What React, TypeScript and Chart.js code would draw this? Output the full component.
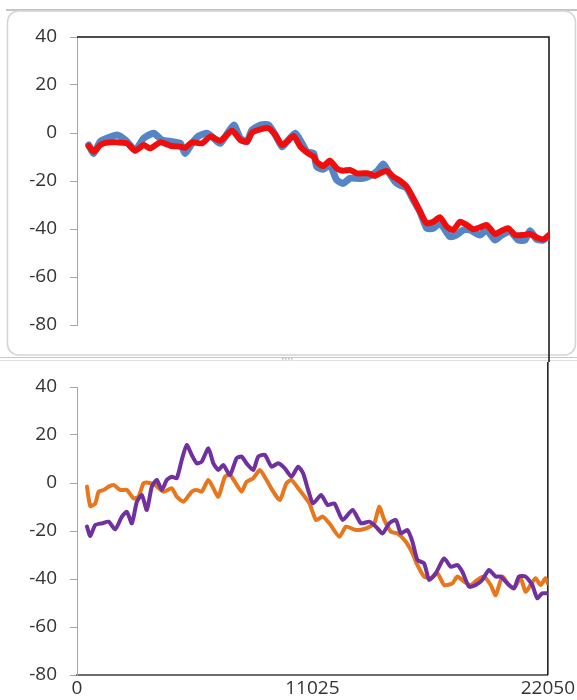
import React, { useEffect, useRef } from "react";
import { Chart, registerables } from "chart.js";

Chart.register(...registerables);

const xMin = 0;
const xMax = 22050;
const xTickValues = [0, 11025, 22050];
const yMin = -80;
const yMax = 40;
const yStep = 20;

// Top chart: blue series
const blueX = [547, 780, 1088, 1401, 1869, 2258, 2724, 3116, 3583, 3971, 4438, 4826, 5059, 5372, 5684, 6073, 6306, 6694, 7320, 7629, 7942, 8175, 8563, 8955, 9264, 9577, 9810, 10198, 10511, 10745, 11058, 11198, 11506, 11819, 12132, 12441, 12753, 13067, 13375, 13688, 14001, 14309, 14543, 14855, 15089, 15402, 15711, 16024, 16337, 16645, 16958, 17425, 17738, 18047, 18359, 18826, 19139, 19527, 19840, 20228, 20616, 20929, 21162, 21475, 21784, 22050];
const blueY = [-5, -8.5, -3.6, -2.2, -0.8, -2.9, -7.1, -2.2, -0.1, -2.9, -3.6, -4.3, -8.5, -4.3, -1.25, -0.1, -1.5, -4.3, 3.3, -2.2, -3.6, 1.25, 3.3, 3.3, -0.8, -5.7, -3.6, -0.1, -4.3, -7.8, -8.5, -14, -15.1, -13.3, -19.6, -21, -18.9, -18.9, -18.9, -17.9, -16.1, -12.9, -16.1, -20.3, -21.7, -22.9, -27.9, -32.8, -39.7, -39.7, -37.6, -43.2, -42.5, -40.4, -40.4, -42.5, -40.4, -44.6, -42.5, -41, -44.6, -44.6, -40.7, -44.3, -44.6, -43];

// Top chart: red series
const redX = [547, 780, 1088, 1401, 1869, 2336, 2724, 3116, 3424, 3891, 4359, 4826, 5059, 5372, 5840, 6227, 6694, 7241, 7629, 7942, 8175, 8563, 8955, 9264, 9577, 9810, 10123, 10432, 10745, 11058, 11198, 11506, 11819, 12132, 12441, 12753, 13067, 13375, 13609, 13921, 14155, 14468, 14776, 15089, 15402, 15711, 16024, 16337, 16645, 16958, 17271, 17579, 17892, 18205, 18514, 18826, 19139, 19527, 19840, 20148, 20461, 20849, 21162, 21475, 21784, 22050];
const redY = [-5.4, -7.8, -5, -4, -3.9, -4.3, -7.4, -5, -6.4, -3.9, -5.3, -5.7, -6.1, -3.9, -4.3, -1.5, -3.2, 1, -2.9, -3.6, 0.1, 1.5, 2, -0.8, -5, -3.6, -1.25, -5.7, -8.2, -9.9, -12, -13.75, -11.5, -14.7, -15.7, -15.4, -16.8, -16.8, -16.8, -17.9, -16.8, -15.8, -18.2, -19.9, -22.4, -27.2, -32.8, -37.6, -37, -35.1, -39, -40.4, -37, -38.3, -40.1, -39.3, -38.3, -42.1, -40.7, -39.7, -42.5, -42.5, -42.1, -43.5, -44.3, -42.5];

// Bottom chart: orange series
const orangeX = [467, 621, 855, 1014, 1247, 1481, 1714, 2023, 2336, 2649, 2882, 3116, 3350, 3658, 4050, 4438, 4672, 4985, 5372, 5606, 5840, 6152, 6386, 6620, 6928, 7162, 7395, 7708, 7942, 8255, 8563, 8876, 9189, 9497, 9810, 10044, 10357, 10665, 10885, 11198, 11506, 11819, 12286, 12599, 13067, 13534, 13921, 14155, 14388, 14701, 15010, 15402, 15711, 15944, 16257, 16570, 16879, 17191, 17579, 17813, 18126, 18439, 18747, 19060, 19373, 19607, 19915, 20228, 20461, 20774, 21008, 21242, 21475, 21709, 21943, 22050];
const orangeY = [-1.5, -9.6, -8.5, -3.6, -2.9, -1.5, -0.8, -2.9, -2.9, -6.4, -5.7, -0.1, 0.1, -0.8, -3.6, -2.2, -5.7, -7.8, -3.6, -2.9, -3.6, 1.25, -2.2, -5.7, 2.6, 3.3, 0.5, -3.6, 0.5, 2, 5.4, 1.25, -3.6, -7.1, -0.1, 1.25, -2.2, -5.7, -8.5, -15.4, -14, -16.8, -22.4, -18.2, -19.6, -18.9, -16.8, -9.9, -15.4, -20.3, -21, -24.5, -29.3, -34.2, -39, -39.7, -37.6, -42.5, -41.8, -39, -41.1, -42.5, -40.4, -39, -42.5, -46.7, -39, -42.5, -43.9, -39.7, -45.3, -42.5, -39.7, -42.5, -39.7, -41.8];

// Bottom chart: purple series
const purpleX = [467, 621, 855, 1168, 1481, 1789, 2102, 2336, 2569, 2803, 3037, 3270, 3504, 3737, 3971, 4204, 4438, 4672, 4905, 5139, 5372, 5606, 5840, 6152, 6386, 6620, 6853, 7162, 7475, 7708, 7942, 8255, 8488, 8797, 9110, 9423, 9731, 10044, 10357, 10591, 10824, 11058, 11431, 11740, 12053, 12441, 12908, 13300, 13688, 14001, 14309, 14622, 14935, 15168, 15477, 15711, 15944, 16257, 16491, 16804, 17191, 17504, 17813, 18047, 18359, 18673, 18981, 19294, 19607, 19840, 20148, 20461, 20695, 21008, 21320, 21554, 21784, 22050];
const purpleY = [-18.2, -22.1, -17.5, -16.8, -16.1, -19.3, -14, -12, -16.8, -7.8, -5, -11.25, -1.5, 1.25, -2.9, 1.25, 2.6, 2, 9.6, 15.8, 11.7, 8.2, 8.9, 14.5, 8.2, 5.4, 7.5, 3.3, 10.3, 11, 8.2, 5.4, 11, 11.7, 6.8, 8.2, 6.1, 2.6, 6.8, 4, -2.9, -8.5, -5, -9.2, -8.5, -15.4, -11.25, -16.8, -16.1, -18.2, -21, -16.8, -15.4, -21, -19.6, -24.5, -32.1, -33.5, -40.4, -37.6, -31.4, -34.9, -34.2, -37, -43.2, -42.5, -40.4, -36.25, -39, -39, -41.8, -43.9, -39, -39, -42.5, -48, -46, -46];

const toPoints = (xs: number[], ys: number[]) => xs.map((x, i) => ({ x, y: ys[i] }));

const FONT = { family: "'Open Sans', 'Noto Sans', sans-serif", size: 19 };
const TEXT = "#333333";

const yScale = () => ({
  type: "linear" as const,
  min: yMin,
  max: yMax,
  afterFit: (axis: any) => {
    axis.width = 77;
  },
  ticks: { stepSize: yStep, color: TEXT, font: FONT, padding: 13 },
  grid: { drawOnChartArea: false, drawTicks: true, tickLength: 7, color: "#a6a6a6" },
  border: { display: true, color: "#a6a6a6", width: 1 },
});

const panelPlugin = {
  id: "panel",
  beforeDraw(chart: any) {
    const ctx = chart.ctx;
    const w = chart.width;
    ctx.save();
    ctx.fillStyle = "#ffffff";
    ctx.fillRect(0, 0, w, chart.height);
    ctx.strokeStyle = "#c4c4c4";
    ctx.lineWidth = 2;
    ctx.beginPath();
    ctx.moveTo(6, 10);
    ctx.lineTo(w, 10);
    ctx.stroke();
    ctx.strokeStyle = "#d4d4d4";
    ctx.lineWidth = 1.5;
    ctx.beginPath();
    ctx.roundRect(7.5, 11, w - 9, 344, 11);
    ctx.stroke();
    ctx.strokeStyle = "#c8c8c8";
    ctx.lineWidth = 1;
    ctx.beginPath();
    ctx.moveTo(0, 357.5);
    ctx.lineTo(w, 357.5);
    ctx.stroke();
    ctx.strokeStyle = "#dedede";
    ctx.beginPath();
    ctx.moveTo(0, 360.5);
    ctx.lineTo(w, 360.5);
    ctx.stroke();
    ctx.fillStyle = "#b8b8b8";
    for (let i = 0; i < 4; i++) {
      ctx.fillRect(282 + i * 3, 358, 1.5, 1.5);
    }
    ctx.restore();
  },
};

const topFramePlugin = {
  id: "topFrame",
  beforeDatasetsDraw(chart: any) {
    const { ctx, chartArea } = chart;
    ctx.save();
    ctx.strokeStyle = "#111111";
    ctx.lineWidth = 1.5;
    ctx.beginPath();
    ctx.moveTo(chartArea.left, chartArea.top);
    ctx.lineTo(chartArea.right, chartArea.top);
    ctx.lineTo(chartArea.right, chart.height);
    ctx.stroke();
    ctx.restore();
  },
};

const bottomFramePlugin = {
  id: "bottomFrame",
  beforeDatasetsDraw(chart: any) {
    const { ctx, chartArea } = chart;
    ctx.save();
    ctx.strokeStyle = "#111111";
    ctx.lineWidth = 1.5;
    ctx.beginPath();
    ctx.moveTo(chartArea.right, 0);
    ctx.lineTo(chartArea.right, chartArea.bottom);
    ctx.stroke();
    ctx.restore();
  },
};

const lineDs = (label: string, xs: number[], ys: number[], color: string, width: number) => ({
  label,
  data: toPoints(xs, ys),
  borderColor: color,
  backgroundColor: color,
  borderWidth: width,
  pointRadius: 0,
  tension: 0.2,
  borderJoinStyle: "round" as const,
  borderCapStyle: "round" as const,
  fill: false,
});

export default function App() {
  const topRef = useRef<HTMLCanvasElement>(null);
  const bottomRef = useRef<HTMLCanvasElement>(null);

  useEffect(() => {
    const top = new Chart(topRef.current!, {
      type: "line",
      data: {
        datasets: [
          lineDs("Red", redX, redY, "#f20d0d", 6),
          lineDs("Blue", blueX, blueY, "#5486c6", 7),
        ],
      },
      options: {
        animation: false,
        responsive: false,
        maintainAspectRatio: false,
        layout: { padding: { top: 37, right: 28, bottom: 37, left: 0 } },
        plugins: { legend: { display: false }, tooltip: { enabled: false } },
        scales: {
          x: { type: "linear", min: xMin, max: xMax, display: false },
          y: yScale(),
        },
      },
      plugins: [panelPlugin, topFramePlugin],
    });

    const bottom = new Chart(bottomRef.current!, {
      type: "line",
      data: {
        datasets: [
          lineDs("Purple", purpleX, purpleY, "#7030a0", 4),
          lineDs("Orange", orangeX, orangeY, "#e8761c", 4),
        ],
      },
      options: {
        animation: false,
        responsive: false,
        maintainAspectRatio: false,
        layout: { padding: { top: 25, right: 28, bottom: 0, left: 0 } },
        plugins: { legend: { display: false }, tooltip: { enabled: false } },
        scales: {
          x: {
            type: "linear",
            min: xMin,
            max: xMax,
            afterBuildTicks: (axis: any) => {
              axis.ticks = xTickValues.map((v) => ({ value: v }));
            },
            afterFit: (axis: any) => {
              axis.height = 25;
            },
            ticks: {
              color: TEXT,
              font: FONT,
              padding: 2,
              autoSkip: false,
              maxRotation: 0,
              callback: (v: any) => String(v),
            },
            grid: { display: false, drawTicks: false },
            border: { display: true, color: "#6e6e6e", width: 2 },
          },
          y: yScale(),
        },
      },
      plugins: [bottomFramePlugin],
    });

    return () => {
      top.destroy();
      bottom.destroy();
    };
  }, []);

  return (
    <div style={{ position: "fixed", left: 0, top: 0, width: 577, height: 700, background: "#ffffff" }}>
      <canvas ref={topRef} width={577} height={362} style={{ position: "absolute", left: 0, top: 0, display: "block" }} />
      <canvas ref={bottomRef} width={577} height={338} style={{ position: "absolute", left: 0, top: 362, display: "block" }} />
    </div>
  );
}
